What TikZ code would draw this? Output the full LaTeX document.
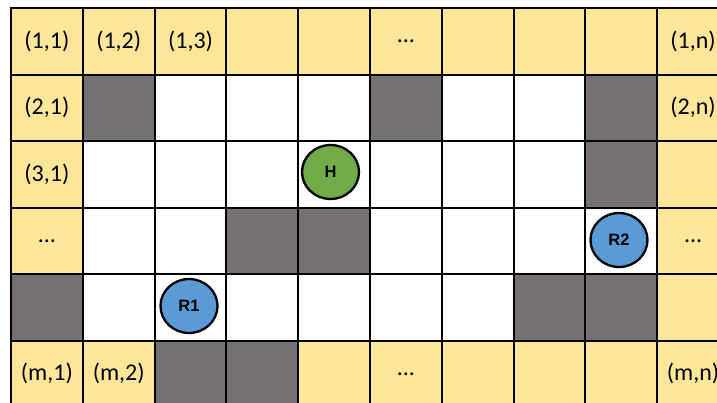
\documentclass[tikz,border=0pt]{standalone}
\usepackage{fontspec}
\setmainfont{Carlito}
\newfontfamily\agentfont{Liberation Sans}
\usetikzlibrary{shapes.geometric,calc}
\definecolor{cellY}{HTML}{FFE699}
\definecolor{cellG}{HTML}{767171}
\definecolor{agentG}{HTML}{70AD47}
\definecolor{agentB}{HTML}{5B9BD5}
\begin{document}
\begin{tikzpicture}[x=1pt,y=-1pt,
  gridline/.style={line width=2pt,black,line cap=rect},
  lbl/.style={inner sep=0pt,font=\fontsize{24}{28}\selectfont},
  agent/.style={ellipse,draw=black,line width=2.3pt,minimum width=57pt,minimum height=54pt,inner sep=0pt,font=\agentfont\bfseries\fontsize{16.5}{19}\selectfont}]
\useasboundingbox (0,0) rectangle (717,402);
\fill[white] (0,0) rectangle (717,402);
\clip (0,0) rectangle (717,402);
% cell centre coordinates
\foreach \r in {1,...,6}{
  \foreach \c in {1,...,10}{
    \coordinate (p-\r-\c) at ({11+71.8*(\c-0.5)},{8+66.5*(\r-0.5)});
  }
}
% yellow cells
\foreach \r/\c in {1/1,1/2,1/3,1/4,1/5,1/6,1/7,1/8,1/9,1/10,
                   2/1,3/1,4/1,2/10,3/10,4/10,5/10,
                   6/1,6/2,6/5,6/6,6/7,6/8,6/9,6/10}{
  \fill[cellY] ($(p-\r-\c)+(-35.9,-33.25)$) rectangle ($(p-\r-\c)+(35.9,33.25)$);
}
% grey cells
\foreach \r/\c in {2/2,2/6,2/9,3/9,4/4,4/5,5/1,5/8,5/9,6/3,6/4}{
  \fill[cellG] ($(p-\r-\c)+(-35.9,-33.25)$) rectangle ($(p-\r-\c)+(35.9,33.25)$);
}
% grid lines
\foreach \k in {0,...,10}{
  \draw[gridline] ({11+71.8*\k},8) -- ({11+71.8*\k},420);
}
\foreach \k in {0,...,6}{
  \draw[gridline] (11,{8+66.5*\k}) -- (740,{8+66.5*\k});
}
% labels
\node[lbl] (t-1-1) at (p-1-1) {(1,1)};
\node[lbl] (t-1-2) at (p-1-2) {(1,2)};
\node[lbl] (t-1-3) at (p-1-3) {(1,3)};
\node[lbl] (t-1-6) at (p-1-6) {...};
\node[lbl] (t-1-10) at (p-1-10) {(1,n)};
\node[lbl] (t-2-1) at (p-2-1) {(2,1)};
\node[lbl] (t-2-10) at (p-2-10) {(2,n)};
\node[lbl] (t-3-1) at (p-3-1) {(3,1)};
\node[lbl] (t-4-1) at (p-4-1) {...};
\node[lbl] (t-4-10) at (p-4-10) {...};
\node[lbl] (t-6-1) at (p-6-1) {(m,1)};
\node[lbl] (t-6-2) at (p-6-2) {(m,2)};
\node[lbl] (t-6-6) at (p-6-6) {...};
\node[lbl] (t-6-10) at (p-6-10) {(m,n)};
% agents
\node[agent,fill=agentG] (H) at (330.5,172) {H};
\node[agent,fill=agentB] (R1) at (189,306) {R1};
\node[agent,fill=agentB] (R2) at (619,240) {R2};
\end{tikzpicture}
\end{document}
